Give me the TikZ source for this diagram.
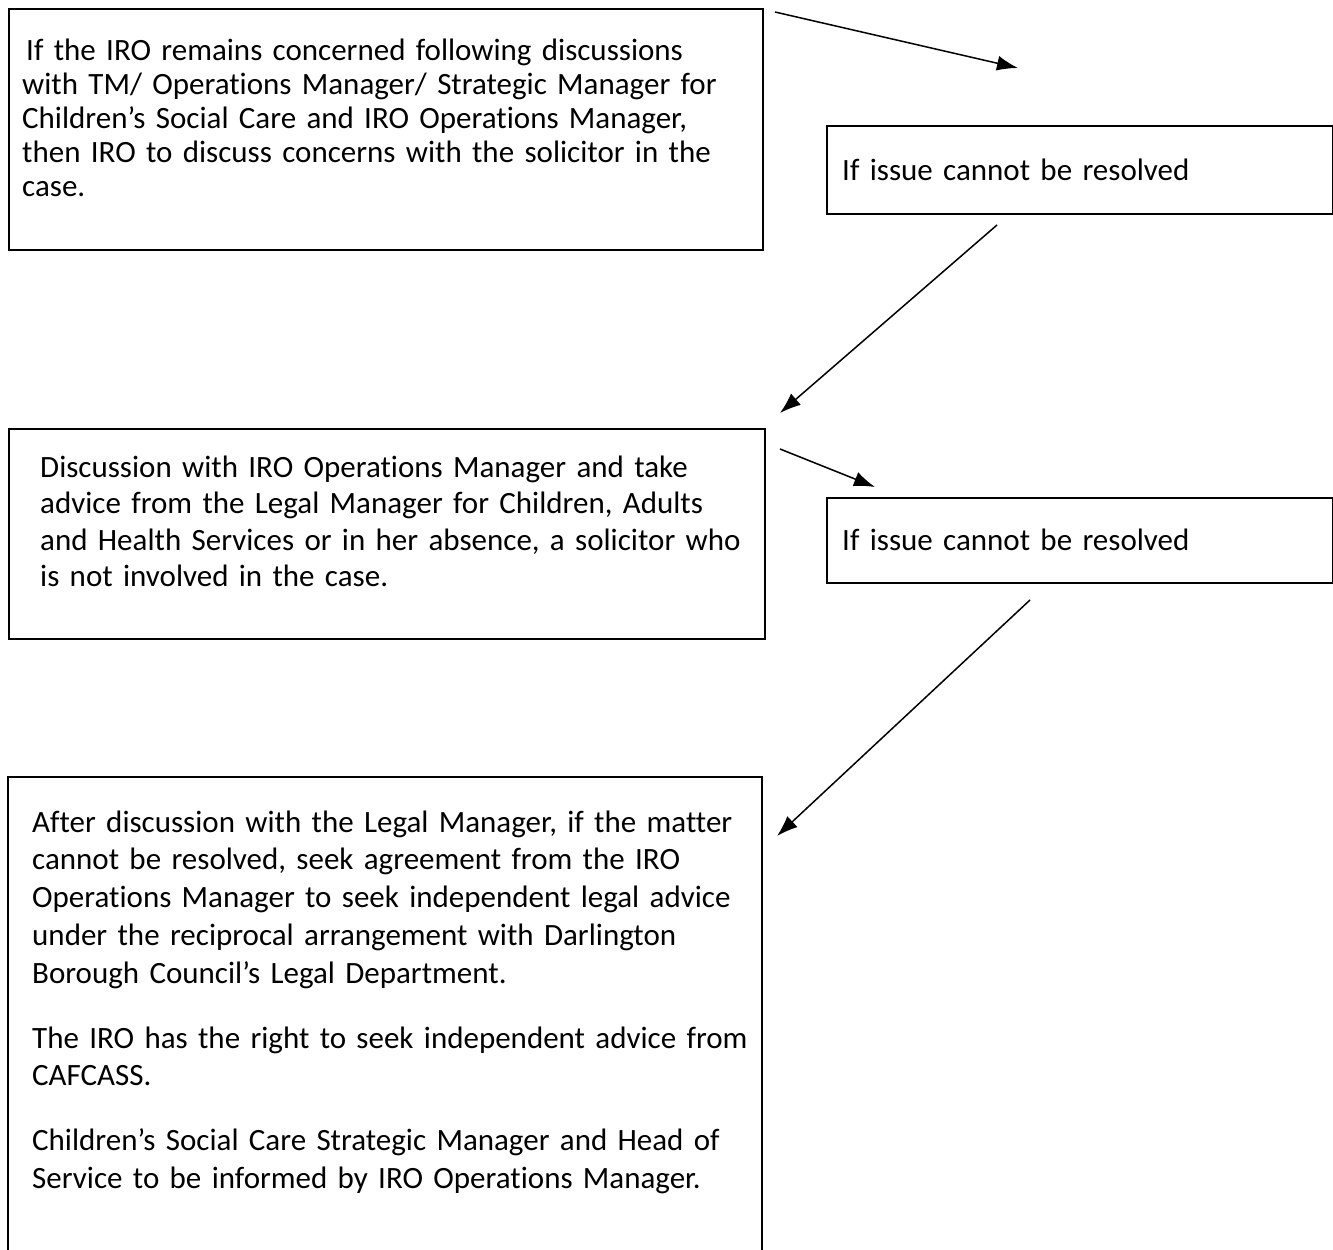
\documentclass[tikz,border=0pt]{standalone}
\usepackage{fontspec}
\setmainfont{Carlito}[Ligatures={NoCommon,NoDiscretionary,NoContextual}]
\usetikzlibrary{arrows.meta}
\tikzset{
  box/.style={draw=black, line width=2pt, rectangle, inner sep=0pt, anchor=north west},
  txt/.style={anchor=base west, inner sep=0pt, text width=#1, align=left},
  txt/.default=760pt,
  arr/.style={draw=black, line width=1.5pt, -{Latex[length=21pt,width=15pt]}}
}
\begin{document}
\begin{tikzpicture}[x=1pt,y=-1pt]
\useasboundingbox (0,0) rectangle (1333,1250);
% boxes
\node[box, minimum width=754pt, minimum height=241pt] (b1) at (8,8) {};
\node[box, minimum width=506pt, minimum height=88pt] (b2) at (826,125) {};
\node[box, minimum width=756pt, minimum height=210pt] (b3) at (8,428) {};
\node[box, minimum width=506pt, minimum height=85pt] (b4) at (826,497) {};
\draw[line width=2pt] (8,1251) coordinate (b5bl) -- (8,777) coordinate (b5tl) -- (762,777) coordinate (b5tr) -- (762,1251) coordinate (b5br);
% texts
\node[txt, font=\fontsize{31}{34}\selectfont] (t1) at (22,60)
 {\hspace*{4pt}If the IRO remains concerned following discussions\\
 with TM/ Operations Manager/ Strategic Manager for\\
 Children’s Social Care and IRO Operations Manager,\\
 then IRO to discuss concerns with the solicitor in the\\
 case.};
\node[txt=480pt, font=\fontsize{31}{34}\selectfont] (t2) at (842,180) {If issue cannot be resolved};
\node[txt, font=\fontsize{31}{36.5}\selectfont] (t3) at (40,477)
 {Discussion with IRO Operations Manager and take\\
 advice from the Legal Manager for Children, Adults\\
 and Health Services or in her absence, a solicitor who\\
 is not involved in the case.};
\node[txt=480pt, font=\fontsize{31}{34}\selectfont] (t4) at (842,550) {If issue cannot be resolved};
\node[txt, font=\fontsize{31}{37.8}\selectfont] (t5) at (32,832)
 {After discussion with the Legal Manager, if the matter\\
 cannot be resolved, seek agreement from the IRO\\
 Operations Manager to seek independent legal advice\\
 under the reciprocal arrangement with Darlington\\
 Borough Council’s Legal Department.\\[27pt]
 The IRO has the right to seek independent advice from\\
 CAFCASS.\\[27pt]
 Children’s Social Care Strategic Manager and Head of\\
 Service to be informed by IRO Operations Manager.};
% arrows
\coordinate (a1s) at (775,12);
\coordinate (a1e) at (1018,68);
\coordinate (a2s) at (997,225);
\coordinate (a2e) at (780,413);
\coordinate (a3s) at (780,449);
\coordinate (a3e) at (875,487);
\coordinate (a4s) at (1030,600);
\coordinate (a4e) at (777,836);
\draw[arr] (a1s) -- (a1e);
\draw[arr] (a2s) -- (a2e);
\draw[arr] (a3s) -- (a3e);
\draw[arr] (a4s) -- (a4e);
\end{tikzpicture}
\end{document}
